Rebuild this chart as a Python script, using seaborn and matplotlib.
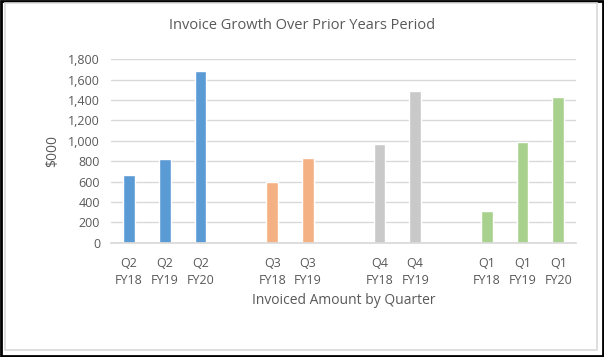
#!/usr/bin/env python3

import pandas as pd
import seaborn as sns
import matplotlib.pyplot as plt
from matplotlib.patches import Rectangle
from matplotlib.ticker import FuncFormatter

# invoiced amounts ($000)
quarters = ["Q2", "Q2", "Q2", "Q3", "Q3", "Q4", "Q4", "Q1", "Q1", "Q1"]
years = ["FY18", "FY19", "FY20", "FY18", "FY19", "FY18", "FY19", "FY18", "FY19", "FY20"]
values = [665, 825, 1680, 600, 832, 970, 1486, 316, 990, 1425]

# blank slots between the quarter groups
slot_order = ["Q2\nFY18", "Q2\nFY19", "Q2\nFY20", " ",
              "Q3\nFY18", "Q3\nFY19", "  ",
              "Q4\nFY18", "Q4\nFY19", "   ",
              "Q1\nFY18", "Q1\nFY19", "Q1\nFY20"]
colors = {"Q2": "#5B9BD5", "Q3": "#F4B183", "Q4": "#C9C9C9", "Q1": "#A9D18E"}

df = pd.DataFrame({"quarter": quarters, "year": years, "value": values})
df["slot"] = df["quarter"] + "\n" + df["year"]

sns.set_theme(style="white")
plt.rcParams["font.family"] = ["Open Sans", "DejaVu Sans"]
text_col = "#595959"

fig = plt.figure(figsize=(6.04, 3.57), dpi=100)
ax = fig.add_axes([0.184, 0.320, 0.770, 0.514])

sns.barplot(data=df, x="slot", y="value", hue="quarter", order=slot_order,
            palette=colors, dodge=False, width=0.33, legend=False, ax=ax,
            saturation=1)

ax.set_ylim(0, 1800)
ax.set_yticks(range(0, 1801, 200))
ax.yaxis.set_major_formatter(FuncFormatter(lambda v, p: f"{int(v):,}"))
ax.grid(axis="y", color="#D9D9D9", linewidth=1)
ax.set_axisbelow(True)
for s in ["top", "right", "left"]:
    ax.spines[s].set_visible(False)
ax.spines["bottom"].set_color("#D9D9D9")
ax.tick_params(axis="both", length=0, labelsize=9, colors=text_col)
ax.tick_params(axis="y", pad=8)
ax.tick_params(axis="x", pad=10)
for t in ax.get_xticklabels():
    t.set_linespacing(1.45)
ax.set_xlabel("Invoiced Amount by Quarter", fontsize=10, color=text_col, labelpad=4)
ax.set_ylabel("$000", fontsize=10, color=text_col, labelpad=6)

fig.suptitle("Invoice Growth Over Prior Years Period", fontsize=10.5, color=text_col,
             y=0.95)

# chart frame
fig.patches.append(Rectangle((0.002, 0.002), 0.996, 0.996, transform=fig.transFigure,
                             fill=False, edgecolor="black", linewidth=2))
fig.patches.append(Rectangle((0.0075, 0.0196), 0.981, 0.973, transform=fig.transFigure,
                             fill=False, edgecolor="#D9D9D9", linewidth=1.2))

fig.savefig("out.png", dpi=100)
